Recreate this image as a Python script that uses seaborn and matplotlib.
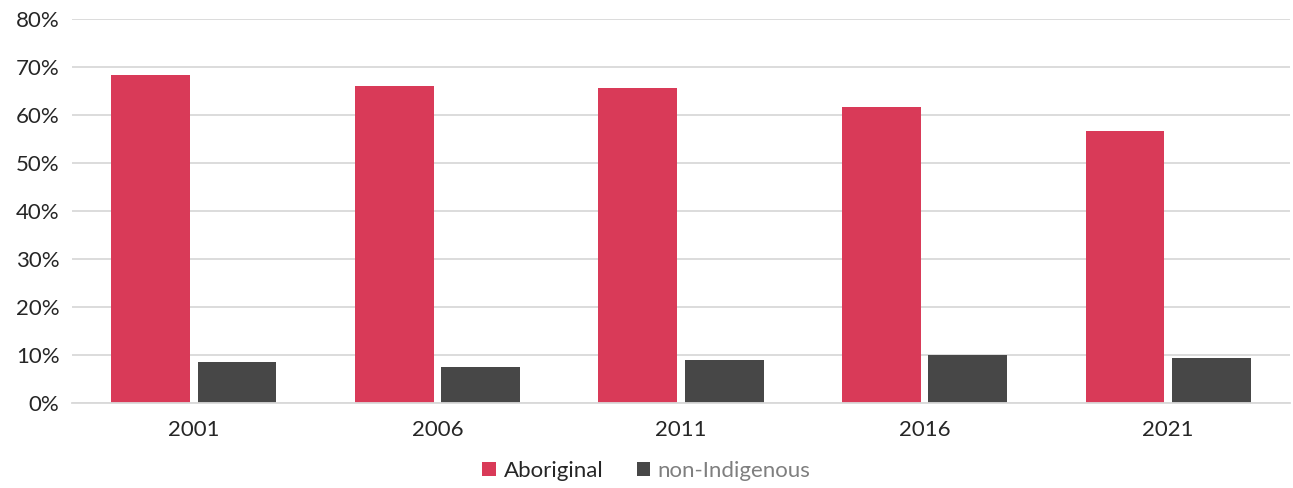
import matplotlib
matplotlib.use("Agg")
import matplotlib.pyplot as plt
import matplotlib.ticker as mticker
from matplotlib.patches import Patch
import pandas as pd
import seaborn as sns

years = ["2001", "2006", "2011", "2016", "2021"]
aboriginal = [68.4, 66.0, 65.6, 61.7, 56.7]
non_indigenous = [8.5, 7.5, 9.0, 9.9, 9.3]
series_names = ["Aboriginal", "non-Indigenous"]
colors = ["#D93A58", "#474747"]
yticks = [0, 10, 20, 30, 40, 50, 60, 70, 80]

df = pd.DataFrame({
    "year": years * 2,
    "value": aboriginal + non_indigenous,
    "group": [series_names[0]] * len(years) + [series_names[1]] * len(years),
})

sns.set_theme(style="white")
plt.rcParams["font.family"] = ["Lato", "DejaVu Sans"]

fig = plt.figure(figsize=(12.93, 4.88), dpi=100)
ax = fig.add_axes([72 / 1293, 1 - 403 / 488, (1290 - 72) / 1293, (403 - 19) / 488])

sns.barplot(data=df, x="year", y="value", hue="group", palette=colors,
            width=0.71, gap=0.088, ax=ax, legend=False, saturation=1,
            edgecolor="none", linewidth=0)

ax.set_ylim(0, 80)
ax.set_xlim(-0.5, len(years) - 0.5)
ax.set_yticks(yticks)
ax.yaxis.set_major_formatter(mticker.FuncFormatter(lambda v, p: f"{int(v)}%"))
ax.yaxis.grid(True, color="#D9D9D9", linewidth=1.3)
ax.set_axisbelow(True)
for s in ["top", "right", "left"]:
    ax.spines[s].set_visible(False)
ax.spines["bottom"].set_color("#D9D9D9")
ax.spines["bottom"].set_linewidth(1.3)
ax.tick_params(axis="both", length=0, labelsize=16, colors="#262626")
ax.tick_params(axis="y", pad=9)
ax.tick_params(axis="x", pad=12)
ax.set_xlabel("")
ax.set_ylabel("")

handles = [Patch(facecolor=c, edgecolor="none") for c in colors]
leg = fig.legend(handles, series_names, loc="center", bbox_to_anchor=(0.5, 1 - 471 / 488),
                 ncol=2, frameon=False, fontsize=16, handlelength=0.6, handleheight=0.6,
                 handletextpad=0.35, columnspacing=1.5)
leg.get_texts()[0].set_color("#262626")
leg.get_texts()[1].set_color("#7F7F7F")

fig.savefig("out.png", dpi=100)
